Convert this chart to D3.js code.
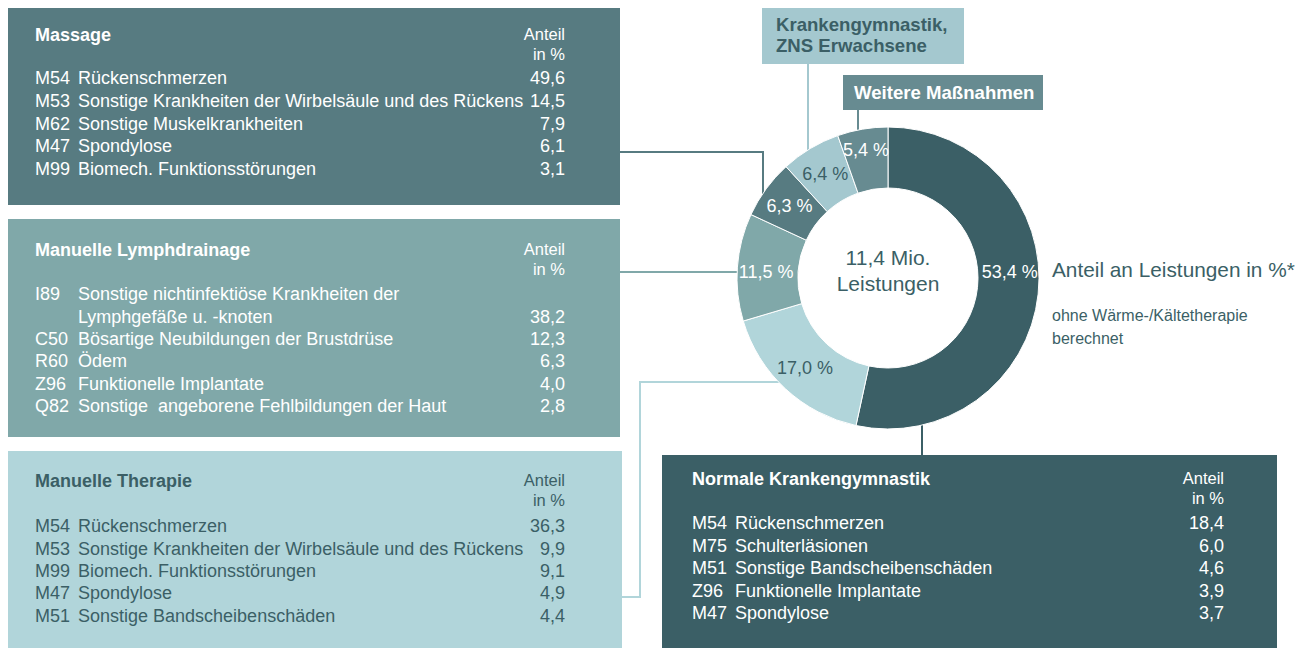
<!DOCTYPE html>
<html>
<head>
<meta charset="utf-8">
<script src="https://cdn.jsdelivr.net/npm/d3@7"></script>
<style>
  body { margin: 0; background: #fff; }
  svg { display: block; font-family: "Liberation Sans", Arial, sans-serif; }
</style>
</head>
<body>
<svg id="chart" width="1297" height="648"></svg>
<script>
// ---- data ----
var sliceNames = ["Normale Krankengymnastik", "Manuelle Therapie", "Manuelle Lymphdrainage",
                  "Massage", "Krankengymnastik, ZNS Erwachsene", "Weitere Maßnahmen"]
var sliceShares = [53.4, 17.0, 11.5, 6.3, 6.4, 5.4]

var massageCodes = ["M54", "M53", "M62", "M47", "M99"]
var massageLabels = ["Rückenschmerzen", "Sonstige Krankheiten der Wirbelsäule und des Rückens",
                     "Sonstige Muskelkrankheiten", "Spondylose", "Biomech. Funktionsstörungen"]
var massageValues = [49.6, 14.5, 7.9, 6.1, 3.1]

var lymphCodes = ["I89", "C50", "R60", "Z96", "Q82"]
var lymphLabels = [["Sonstige nichtinfektiöse Krankheiten der", "Lymphgefäße u. -knoten"],
                   ["Bösartige Neubildungen der Brustdrüse"], ["Ödem"],
                   ["Funktionelle Implantate"], ["Sonstige  angeborene Fehlbildungen der Haut"]]
var lymphValues = [38.2, 12.3, 6.3, 4.0, 2.8]

var therapieCodes = ["M54", "M53", "M99", "M47", "M51"]
var therapieLabels = ["Rückenschmerzen", "Sonstige Krankheiten der Wirbelsäule und des Rückens",
                      "Biomech. Funktionsstörungen", "Spondylose", "Sonstige Bandscheibenschäden"]
var therapieValues = [36.3, 9.9, 9.1, 4.9, 4.4]

var normalCodes = ["M54", "M75", "M51", "Z96", "M47"]
var normalLabels = ["Rückenschmerzen", "Schulterläsionen", "Sonstige Bandscheibenschäden",
                    "Funktionelle Implantate", "Spondylose"]
var normalValues = [18.4, 6.0, 4.6, 3.9, 3.7]

// ---- styles ----
var cDark = "#3b5f66", cMid = "#577b81", cSage = "#80a8a9", cLight = "#b1d5da",
    cPale = "#a4c8cf", cSlate = "#678b91"
var sliceColors = [cDark, cLight, cSage, cMid, cPale, cSlate]
var sliceText = ["#fff", cDark, "#fff", "#fff", cDark, "#fff"]
var fmt = d => d.toFixed(1).replace(".", ",")

var svg = d3.select("#chart")

// ---- connector lines (drawn first, under boxes and ring) ----
var connectors = [
  {pts: [[620, 152], [763, 152], [763, 200]], color: cMid},
  {pts: [[620, 272], [745, 272]], color: cSage},
  {pts: [[620, 597], [640, 597], [640, 382], [785, 382]], color: cLight},
  {pts: [[922, 415], [922, 456]], color: cDark},
  {pts: [[808, 64], [808, 150]], color: cPale},
  {pts: [[858, 110], [858, 130]], color: cSlate}
]
svg.append("g").selectAll("path").data(connectors).enter().append("path")
  .attr("d", d => d3.line()(d.pts))
  .attr("fill", "none")
  .attr("stroke", d => d.color)
  .attr("stroke-width", 2)

// ---- donut ----
var cx = 888, cy = 278, rOut = 151, rIn = 90, rLab = 122
var pie = d3.pie().sort(null).value(d => d)
var arc = d3.arc().innerRadius(rIn).outerRadius(rOut)
var ring = svg.append("g").attr("transform", "translate(" + cx + "," + cy + ")")
var arcs = pie(sliceShares)

// label angle: slices that cross 3 or 9 o'clock get their label there, others at mid angle
function labelPos(d) {
  var a = (d.startAngle + d.endAngle) / 2
  var east = Math.PI / 2, west = 3 * Math.PI / 2
  if (d.startAngle < east && d.endAngle > east) a = east - 0.05
  else if (d.startAngle < west && d.endAngle > west) a = west + 0.05
  var r = d.endAngle - d.startAngle < 0.36 && a > 5.9 ? rLab + 8 : rLab
  return [r * Math.sin(a), -r * Math.cos(a)]
}

ring.selectAll("path").data(arcs).enter().append("path")
  .attr("d", arc)
  .attr("fill", (d, i) => sliceColors[i])
  .attr("stroke", "#fff")
  .attr("stroke-width", 1)
  .append("title").text((d, i) => sliceNames[i])

ring.selectAll("text.pct").data(arcs).enter().append("text")
  .attr("class", "pct")
  .attr("transform", d => "translate(" + labelPos(d) + ")")
  .attr("text-anchor", "middle")
  .attr("dy", "0.35em")
  .attr("font-size", 18)
  .attr("fill", (d, i) => sliceText[i])
  .text(d => fmt(d.data) + " %")

ring.append("text").attr("text-anchor", "middle").attr("y", -20).attr("dy", "0.35em")
  .attr("font-size", 21).attr("fill", cDark).text("11,4 Mio.")
ring.append("text").attr("text-anchor", "middle").attr("y", 6).attr("dy", "0.35em")
  .attr("font-size", 21).attr("fill", cDark).text("Leistungen")

// ---- legend texts on the right ----
svg.append("text").attr("x", 1052).attr("y", 277).attr("font-size", 20.8)
  .attr("fill", cDark).text("Anteil an Leistungen in %*")
svg.append("text").attr("x", 1052).attr("y", 321).attr("font-size", 16)
  .attr("fill", cDark).text("ohne Wärme-/Kältetherapie")
svg.append("text").attr("x", 1052).attr("y", 344).attr("font-size", 16)
  .attr("fill", cDark).text("berechnet")

// ---- small title boxes ----
function tagBox(x, y, w, h, fill, color, lines, tx, ty) {
  svg.append("rect").attr("x", x).attr("y", y).attr("width", w).attr("height", h).attr("fill", fill)
  lines.forEach(function(l, i) {
    svg.append("text").attr("x", tx).attr("y", ty + i * 21).attr("dy", "0.35em")
      .attr("font-size", 18.6).attr("font-weight", "bold").attr("fill", color).text(l)
  })
}
tagBox(762, 8, 202, 56, cPale, cDark, ["Krankengymnastik,", "ZNS Erwachsene"], 776, 24)
tagBox(843, 75, 200, 35, cSlate, "#fff", ["Weitere Maßnahmen"], 854, 92)

// ---- detail boxes ----
function detailBox(o) {
  var g = svg.append("g")
  var pad = o.pad || 27
  g.append("rect").attr("x", o.x).attr("y", o.y).attr("width", o.w).attr("height", o.h).attr("fill", o.fill)
  g.append("text").attr("x", o.x + pad).attr("y", o.titleY).attr("dy", "0.35em")
    .attr("font-size", 18).attr("font-weight", "bold").attr("fill", o.color).text(o.title)
  g.append("text").attr("x", o.valX).attr("y", o.titleY - 1).attr("dy", "0.35em")
    .attr("text-anchor", "end").attr("font-size", 16.5).attr("fill", o.color).text("Anteil")
  g.append("text").attr("x", o.valX).attr("y", o.titleY + 19).attr("dy", "0.35em")
    .attr("text-anchor", "end").attr("font-size", 16.5).attr("fill", o.color).text("in %")

  var line = 0
  o.codes.forEach(function(code, i) {
    var lab = Array.isArray(o.labels[i]) ? o.labels[i] : [o.labels[i]]
    var y0 = o.rowY + line * o.step
    g.append("text").attr("x", o.x + pad).attr("y", y0).attr("dy", "0.35em")
      .attr("font-size", 18).attr("fill", o.color).text(code)
    lab.forEach(function(t, k) {
      g.append("text").attr("x", o.x + pad + 43).attr("y", y0 + k * o.step).attr("dy", "0.35em")
        .attr("font-size", 18).attr("fill", o.color).style("white-space", "pre").text(t)
    })
    g.append("text").attr("x", o.valX).attr("y", y0 + (lab.length - 1) * o.step).attr("dy", "0.35em")
      .attr("text-anchor", "end").attr("font-size", 18).attr("fill", o.color).text(fmt(o.values[i]))
    line += lab.length
  })
}

detailBox({x: 8, y: 8, w: 612, h: 197, fill: cMid, color: "#fff", title: "Massage",
  titleY: 35, rowY: 78, step: 22.7, valX: 565,
  codes: massageCodes, labels: massageLabels, values: massageValues})
detailBox({x: 8, y: 219, w: 612, h: 218, fill: cSage, color: "#fff", title: "Manuelle Lymphdrainage",
  titleY: 250, rowY: 294, step: 22.3, valX: 565,
  codes: lymphCodes, labels: lymphLabels, values: lymphValues})
detailBox({x: 8, y: 451, w: 614, h: 197, fill: cLight, color: cDark, title: "Manuelle Therapie",
  titleY: 481, rowY: 526, step: 22.3, valX: 565,
  codes: therapieCodes, labels: therapieLabels, values: therapieValues})
detailBox({x: 662, y: 455, w: 615, h: 193, fill: cDark, color: "#fff", title: "Normale Krankengymnastik",
  titleY: 479, rowY: 523, step: 22.5, valX: 1224, pad: 30,
  codes: normalCodes, labels: normalLabels, values: normalValues})
</script>
</body>
</html>
